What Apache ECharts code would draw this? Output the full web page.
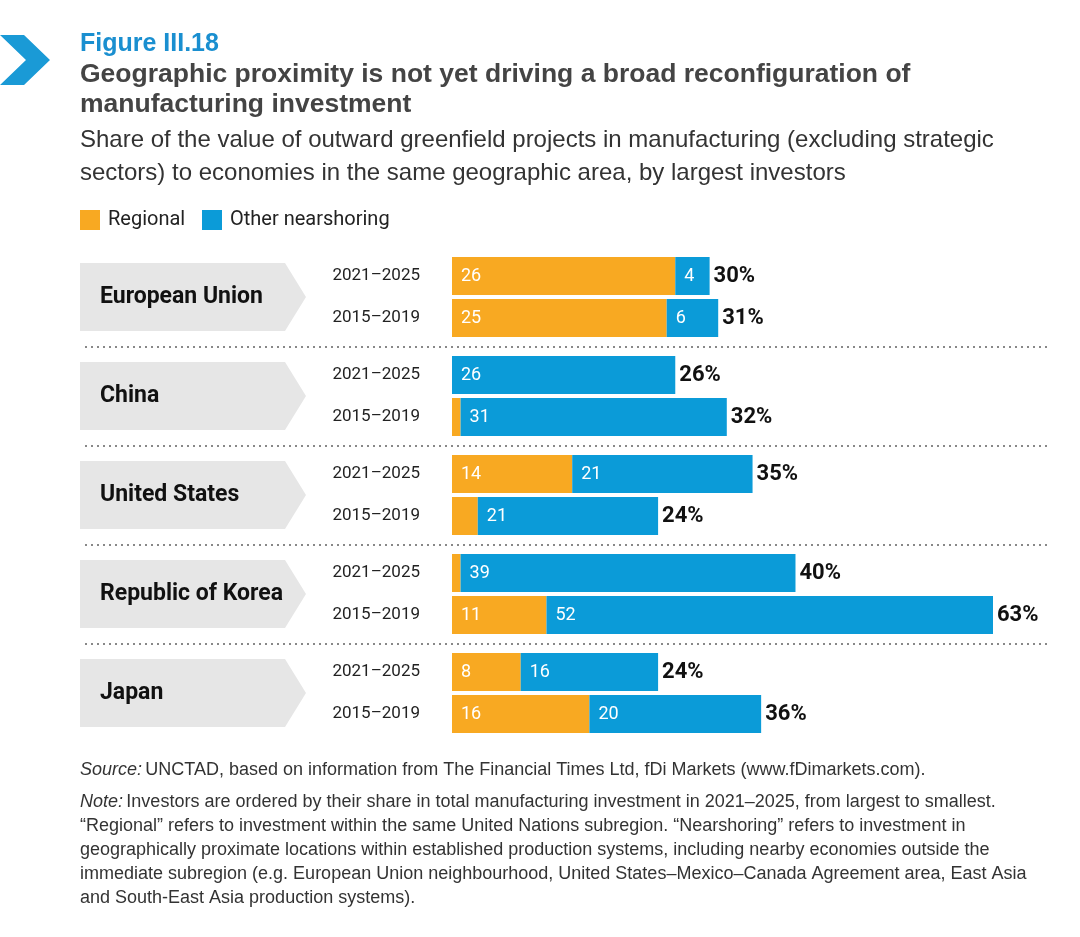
<!DOCTYPE html>
<html><head><meta charset="utf-8">
<script src="https://cdn.jsdelivr.net/npm/echarts@6/dist/echarts.min.js"></script>
<style>html,body{margin:0;background:#fff}#c{width:1080px;height:937px}</style>
</head><body><div id="c"></div>
<script>
const groups = ['European Union','China','United States','Republic of Korea','Japan'];
const periods = ['2021–2025','2015–2019'];
const regional = [[26,25],[0,1],[14,3],[1,11],[8,16]];
const nearshoring = [[4,6],[26,31],[21,21],[39,52],[16,20]];
const totals = [[30,31],[26,32],[35,24],[40,63],[24,36]];
const ORANGE='#f8a922', BLUE='#0b9bd8';
const FN='"Roboto","Liberation Sans",sans-serif';
const chart = echarts.init(document.getElementById('c'));
const grids=[],xAxes=[],yAxes=[],series=[],graphics=[];
groups.forEach((g,i)=>{
  const top=255+i*99;
  grids.push({left:452,right:87,top:top,height:84});
  xAxes.push({gridIndex:i,type:'value',min:0,max:63,show:false});
  yAxes.push({gridIndex:i,type:'category',inverse:true,data:periods,axisLine:{show:false},axisTick:{show:false},
    axisLabel:{margin:32,color:'#222',fontSize:17,fontFamily:FN}});
  const lbl=()=>({show:true,position:'insideLeft',color:'#fff',fontSize:18,fontFamily:FN,offset:[4,0],
    formatter:p=>p.value>=4?p.value:''});
  series.push({type:'bar',xAxisIndex:i,yAxisIndex:i,stack:'s'+i,data:regional[i],barWidth:38,itemStyle:{color:ORANGE},label:lbl(),silent:true});
  series.push({type:'bar',xAxisIndex:i,yAxisIndex:i,stack:'s'+i,data:nearshoring[i],barWidth:38,itemStyle:{color:BLUE},label:lbl(),silent:true});
  series.push({type:'bar',xAxisIndex:i,yAxisIndex:i,stack:'s'+i,data:[0,0],barWidth:38,itemStyle:{color:'transparent'},
    label:{show:true,position:'right',distance:4,color:'#111',fontWeight:'bold',fontSize:22,fontFamily:FN,
      formatter:p=>totals[i][p.dataIndex]+'%'},silent:true});
  const y0=top+8,y1=top+76;
  graphics.push({type:'polygon',shape:{points:[[80,y0],[285,y0],[306,(y0+y1)/2],[285,y1],[80,y1]]},style:{fill:'#e6e6e6'}});
  graphics.push({type:'text',x:100,y:(y0+y1)/2,style:{text:g,fill:'#111',font:'bold 23px '+FN,textVerticalAlign:'middle'}});
  if(i<4) graphics.push({type:'line',shape:{x1:85,y1:top+92,x2:1048,y2:top+92},style:{stroke:'#888',lineWidth:2,lineDash:[2,4]}});
});
graphics.push({type:'polygon',shape:{points:[[0,35],[24,35],[50,60],[24,85],[0,85],[26,60]]},style:{fill:'#1a9ad6'}});
graphics.push({type:'text',x:80,y:32,style:{text:'Figure III.18',fill:'#1a8fd0',font:'bold 25px "Liberation Sans",sans-serif'}});
graphics.push({type:'text',x:80,y:60,style:{text:'Geographic proximity is not yet driving a broad reconfiguration of\nmanufacturing investment',fill:'#444',font:'bold 26.5px "Liberation Sans",sans-serif',lineHeight:30}});
graphics.push({type:'text',x:80,y:124,style:{text:'Share of the value of outward greenfield projects in manufacturing (excluding strategic\nsectors) to economies in the same geographic area, by largest investors',fill:'#333',font:'24px "Liberation Sans",sans-serif',lineHeight:33}});
graphics.push({type:'rect',shape:{x:80,y:210,width:20,height:20},style:{fill:ORANGE}});
graphics.push({type:'text',x:108,y:220,style:{text:'Regional',fill:'#222',font:'20px '+FN,textVerticalAlign:'middle'}});
graphics.push({type:'rect',shape:{x:202,y:210,width:20,height:20},style:{fill:BLUE}});
graphics.push({type:'text',x:230,y:220,style:{text:'Other nearshoring',fill:'#222',font:'20px '+FN,textVerticalAlign:'middle'}});
const rs={i:{fontStyle:'italic',fontSize:18,fill:'#333',fontFamily:'Liberation Sans',lineHeight:24},n:{fontSize:18,fill:'#333',fontFamily:'Liberation Sans',lineHeight:24}};
graphics.push({type:'text',x:80,y:758,style:{rich:rs,
  text:'{i|Source:} {n|UNCTAD, based on information from The Financial Times Ltd, fDi Markets (www.fDimarkets.com).}'}});
graphics.push({type:'text',x:80,y:790,style:{rich:rs,
  text:'{i|Note:} {n|Investors are ordered by their share in total manufacturing investment in 2021–2025, from largest to smallest.}\n{n|“Regional” refers to investment within the same United Nations subregion. “Nearshoring” refers to investment in}\n{n|geographically proximate locations within established production systems, including nearby economies outside the}\n{n|immediate subregion (e.g. European Union neighbourhood, United States–Mexico–Canada Agreement area, East Asia}\n{n|and South-East Asia production systems).}'}});
chart.setOption({animation:false,grid:grids,xAxis:xAxes,yAxis:yAxes,series:series,graphic:graphics});
</script></body></html>
